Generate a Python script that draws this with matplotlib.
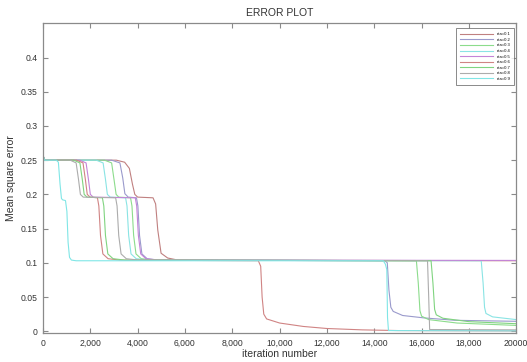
import numpy as np
import matplotlib
matplotlib.use("Agg")
import matplotlib.pyplot as plt
from matplotlib.ticker import FixedLocator, FixedFormatter

plt.rcParams['font.family'] = ['Liberation Sans', 'DejaVu Sans']

#-----------------------------------------------------------------------------
# Digitized curves: iteration number vs mean square error, one per learning rate
labels = ["eta=0.1", "eta=0.2", "eta=0.3", "eta=0.4", "eta=0.5",
          "eta=0.6", "eta=0.7", "eta=0.8", "eta=0.9"]
colors = ["#c08080", "#9a9acc", "#8cdc8c", "#8ae4e4", "#c484d8",
          "#d08484", "#80d480", "#acacac", "#80e6e6"]

iter_01 = [0, 60, 3100, 3450, 3650, 3780, 3880, 4000, 4650, 4760, 4850, 4990, 5270, 5700, 20000]
mse_01 = [0.257, 0.250, 0.250, 0.247, 0.238, 0.215, 0.200, 0.196, 0.195, 0.186, 0.148, 0.114, 0.107, 0.104, 0.103]

iter_02 = [0, 60, 2900, 3250, 3370, 3460, 3600, 3950, 4010, 4080, 4180, 4400, 4900,
           14450, 14550, 14620, 14700, 14800, 15200, 16100, 17400, 20000]
mse_02 = [0.257, 0.250, 0.250, 0.246, 0.224, 0.201, 0.196, 0.195, 0.183, 0.140, 0.113, 0.106, 0.104,
          0.103, 0.100, 0.060, 0.035, 0.029, 0.023, 0.0195, 0.016, 0.0145]

iter_03 = [0, 60, 2600, 2900, 3000, 3090, 3200, 3700, 3760, 3830, 3930, 4150, 4650,
           15780, 15860, 15930, 16000, 16300, 17500, 20000]
mse_03 = [0.257, 0.250, 0.250, 0.246, 0.222, 0.200, 0.196, 0.195, 0.183, 0.140, 0.113, 0.106, 0.104,
          0.103, 0.070, 0.030, 0.022, 0.017, 0.012, 0.0085]

iter_04 = [0, 60, 2250, 2540, 2640, 2720, 2840, 3490, 3550, 3620, 3720, 3940, 4440,
           18520, 18600, 18660, 18720, 19000, 20000]
mse_04 = [0.257, 0.250, 0.250, 0.246, 0.222, 0.200, 0.196, 0.195, 0.183, 0.140, 0.113, 0.106, 0.104,
          0.103, 0.070, 0.035, 0.026, 0.021, 0.017]

iter_05 = [0, 60, 1550, 1820, 1920, 2000, 2120, 3900, 3960, 4030, 4130, 4350, 4850, 20000]
mse_05 = [0.257, 0.250, 0.250, 0.246, 0.222, 0.200, 0.196, 0.195, 0.183, 0.140, 0.113, 0.106, 0.104, 0.1035]

iter_06 = [0, 60, 1420, 1690, 1790, 1870, 1990, 2300, 2360, 2430, 2530, 2750, 3250,
           9100, 9200, 9260, 9330, 9450, 10000, 11000, 12000, 13500, 15000, 20000]
mse_06 = [0.257, 0.250, 0.250, 0.246, 0.222, 0.200, 0.196, 0.195, 0.183, 0.140, 0.113, 0.106, 0.104,
          0.103, 0.095, 0.050, 0.025, 0.018, 0.012, 0.007, 0.004, 0.002, 0.001, 0.0005]

iter_07 = [0, 60, 1300, 1560, 1660, 1740, 1860, 2510, 2570, 2640, 2740, 2960, 3460,
           16400, 16480, 16550, 16620, 16900, 18000, 20000]
mse_07 = [0.257, 0.250, 0.250, 0.246, 0.222, 0.200, 0.196, 0.195, 0.183, 0.140, 0.113, 0.106, 0.104,
          0.103, 0.070, 0.032, 0.024, 0.019, 0.014, 0.011]

iter_08 = [0, 60, 1150, 1400, 1500, 1580, 1700, 3070, 3130, 3200, 3300, 3520, 4020,
           16250, 16300, 16340, 20000]
mse_08 = [0.257, 0.250, 0.250, 0.246, 0.222, 0.200, 0.196, 0.195, 0.183, 0.140, 0.113, 0.106, 0.104,
          0.103, 0.050, 0.0025, 0.0020]

iter_09 = [0, 60, 560, 650, 720, 780, 830, 950, 1010, 1060, 1120, 1200, 1400,
           14380, 14470, 14530, 14560, 14600, 20000]
mse_09 = [0.257, 0.250, 0.250, 0.247, 0.215, 0.194, 0.192, 0.191, 0.175, 0.130, 0.108, 0.104, 0.103,
          0.103, 0.098, 0.090, 0.020, 0.001, 0.0005]

x_ticks = [0, 2000, 4000, 6000, 8000, 10000, 12000, 14000, 16000, 18000, 20000]
x_ticklabels = ["0", "2,000", "4,000", "6,000", "8,000", "10,000", "12,000",
                "14,000", "16,000", "18,000", "20000"]
y_ticks = [0, 0.05, 0.1, 0.15, 0.2, 0.25, 0.3, 0.35, 0.4]
y_ticklabels = ["0", "0.05", "0.1", "0.15", "0.2", "0.25", "0.3", "0.35", "0.4"]

#-----------------------------------------------------------------------------
curves = [(iter_01, mse_01), (iter_02, mse_02), (iter_03, mse_03),
          (iter_04, mse_04), (iter_05, mse_05), (iter_06, mse_06),
          (iter_07, mse_07), (iter_08, mse_08), (iter_09, mse_09)]

fig = plt.figure(figsize=(5.27, 3.62), dpi=100)
ax = fig.add_axes([0.0816, 0.0793, 0.898, 0.8563])

for (x, y), lab, col in zip(curves, labels, colors):
    ax.plot(x, y, color=col, lw=0.8, label=lab)

ax.set_xlim(0, 20000)
ax.set_ylim(-0.003, 0.45)

ax.xaxis.set_major_locator(FixedLocator(x_ticks))
ax.xaxis.set_major_formatter(FixedFormatter(x_ticklabels))
ax.yaxis.set_major_locator(FixedLocator(y_ticks))
ax.yaxis.set_major_formatter(FixedFormatter(y_ticklabels))

grey = "#8a8a8a"
for s in ax.spines.values():
    s.set_color(grey)
    s.set_linewidth(0.9)
ax.tick_params(direction="in", length=3.5, width=0.8, color=grey,
               top=True, right=True, labelsize=6.2, labelcolor="#333333", pad=4)

ax.set_title("ERROR PLOT", fontsize=7.5, color="#333333", pad=5)
ax.set_xlabel("iteration number", fontsize=7.5, color="#333333", labelpad=1)
ax.set_ylabel("Mean square error", fontsize=7.5, color="#333333", labelpad=3)

leg = ax.legend(loc="upper right", fontsize=3.0, frameon=True, fancybox=False,
                handlelength=8, labelspacing=0.38, borderpad=0.9,
                bbox_to_anchor=(1.0, 0.99))
leg.get_frame().set_edgecolor("#555555")
leg.get_frame().set_linewidth(0.6)

fig.savefig("out.png", dpi=100)
